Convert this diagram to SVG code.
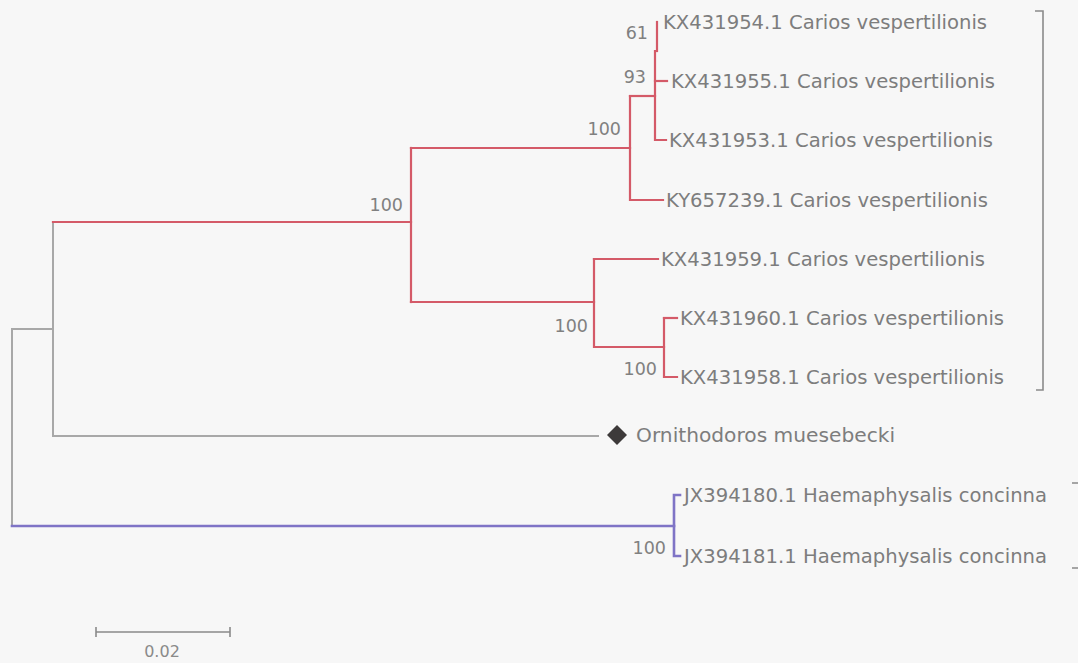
<svg xmlns="http://www.w3.org/2000/svg" width="1078" height="663" viewBox="0 0 1078 663">
<style>
.red{fill:none;stroke:#d45a68;stroke-width:2.2;stroke-linecap:square}
.gray{fill:none;stroke:#a8a8a8;stroke-width:2;stroke-linecap:square}
.blue{fill:none;stroke:#7f74c6;stroke-width:2.6;stroke-linecap:square}
.brk{fill:none;stroke:#8a8a8a;stroke-width:1.6}
.tip{font-family:"DejaVu Sans",Verdana,sans-serif;font-size:19.6px;fill:#7d7d7d}
.bs{font-family:"DejaVu Sans",Verdana,sans-serif;font-size:17.5px;fill:#808080}
.sc{font-family:"DejaVu Sans",Verdana,sans-serif;font-size:16px;fill:#8a8a8a}
</style>
<rect width="1078" height="663" fill="#f7f7f7"/>
<g id="connectors">
  <path class="gray" d="M53,329 H12 V526"/>
  <path class="gray" d="M53,222 V436 H598"/>
  <path class="blue" d="M12,526 H674"/>
  <path class="blue" d="M680,495 H674 V556 H680"/>
  <path class="red" d="M53,222 H411"/>
  <path class="red" d="M411,148 V302"/>
  <path class="red" d="M411,148 H630"/>
  <path class="red" d="M630,96 V200 H663"/>
  <path class="red" d="M630,96 H655"/>
  <path class="red" d="M655,51 V140 H666"/>
  <path class="red" d="M655,81 H667"/>
  <path class="red" d="M657,22 V51"/>
  <path class="red" d="M411,302 H594"/>
  <path class="red" d="M594,259 V347 H664"/>
  <path class="red" d="M594,259 H658"/>
  <path class="red" d="M664,318 V377 H677"/>
  <path class="red" d="M664,318 H677"/>
</g>
<g id="bootstrap">
  <text class="bs" x="648" y="39" text-anchor="end">61</text>
  <text class="bs" x="646" y="83" text-anchor="end">93</text>
  <text class="bs" x="621" y="135" text-anchor="end">100</text>
  <text class="bs" x="403" y="211" text-anchor="end">100</text>
  <text class="bs" x="588" y="332" text-anchor="end">100</text>
  <text class="bs" x="657" y="375" text-anchor="end">100</text>
  <text class="bs" x="666" y="554" text-anchor="end">100</text>
</g>
<g id="tip-KX431954"><text class="tip" x="663" y="29">KX431954.1 Carios vespertilionis</text></g>
<g id="tip-KX431955"><text class="tip" x="671" y="88">KX431955.1 Carios vespertilionis</text></g>
<g id="tip-KX431953"><text class="tip" x="669" y="147">KX431953.1 Carios vespertilionis</text></g>
<g id="tip-KY657239"><text class="tip" x="666" y="207">KY657239.1 Carios vespertilionis</text></g>
<g id="tip-KX431959"><text class="tip" x="661" y="266">KX431959.1 Carios vespertilionis</text></g>
<g id="tip-KX431960"><text class="tip" x="680" y="325">KX431960.1 Carios vespertilionis</text></g>
<g id="tip-KX431958"><text class="tip" x="680" y="384">KX431958.1 Carios vespertilionis</text></g>
<g id="tip-Ornithodoros">
  <polygon points="617,425 627,435 617,445 607,435" fill="#3d3a3a"/>
  <text class="tip" x="636" y="442" style="font-size:20.2px">Ornithodoros muesebecki</text>
</g>
<g id="tip-JX394180"><text class="tip" x="684" y="502">JX394180.1 Haemaphysalis concinna</text></g>
<g id="tip-JX394181"><text class="tip" x="684" y="563">JX394181.1 Haemaphysalis concinna</text></g>
<g id="brackets">
  <path class="brk" d="M1035,11 H1043 V390 H1036"/>
  <path class="brk" d="M1072,483 H1078 M1072,568 H1078"/>
</g>
<g id="scalebar">
  <path d="M96,632 H230 M96,627 V637 M230,627 V637" fill="none" stroke="#8a8a8a" stroke-width="1.6"/>
  <text class="sc" x="162" y="657" text-anchor="middle">0.02</text>
</g>
</svg>
